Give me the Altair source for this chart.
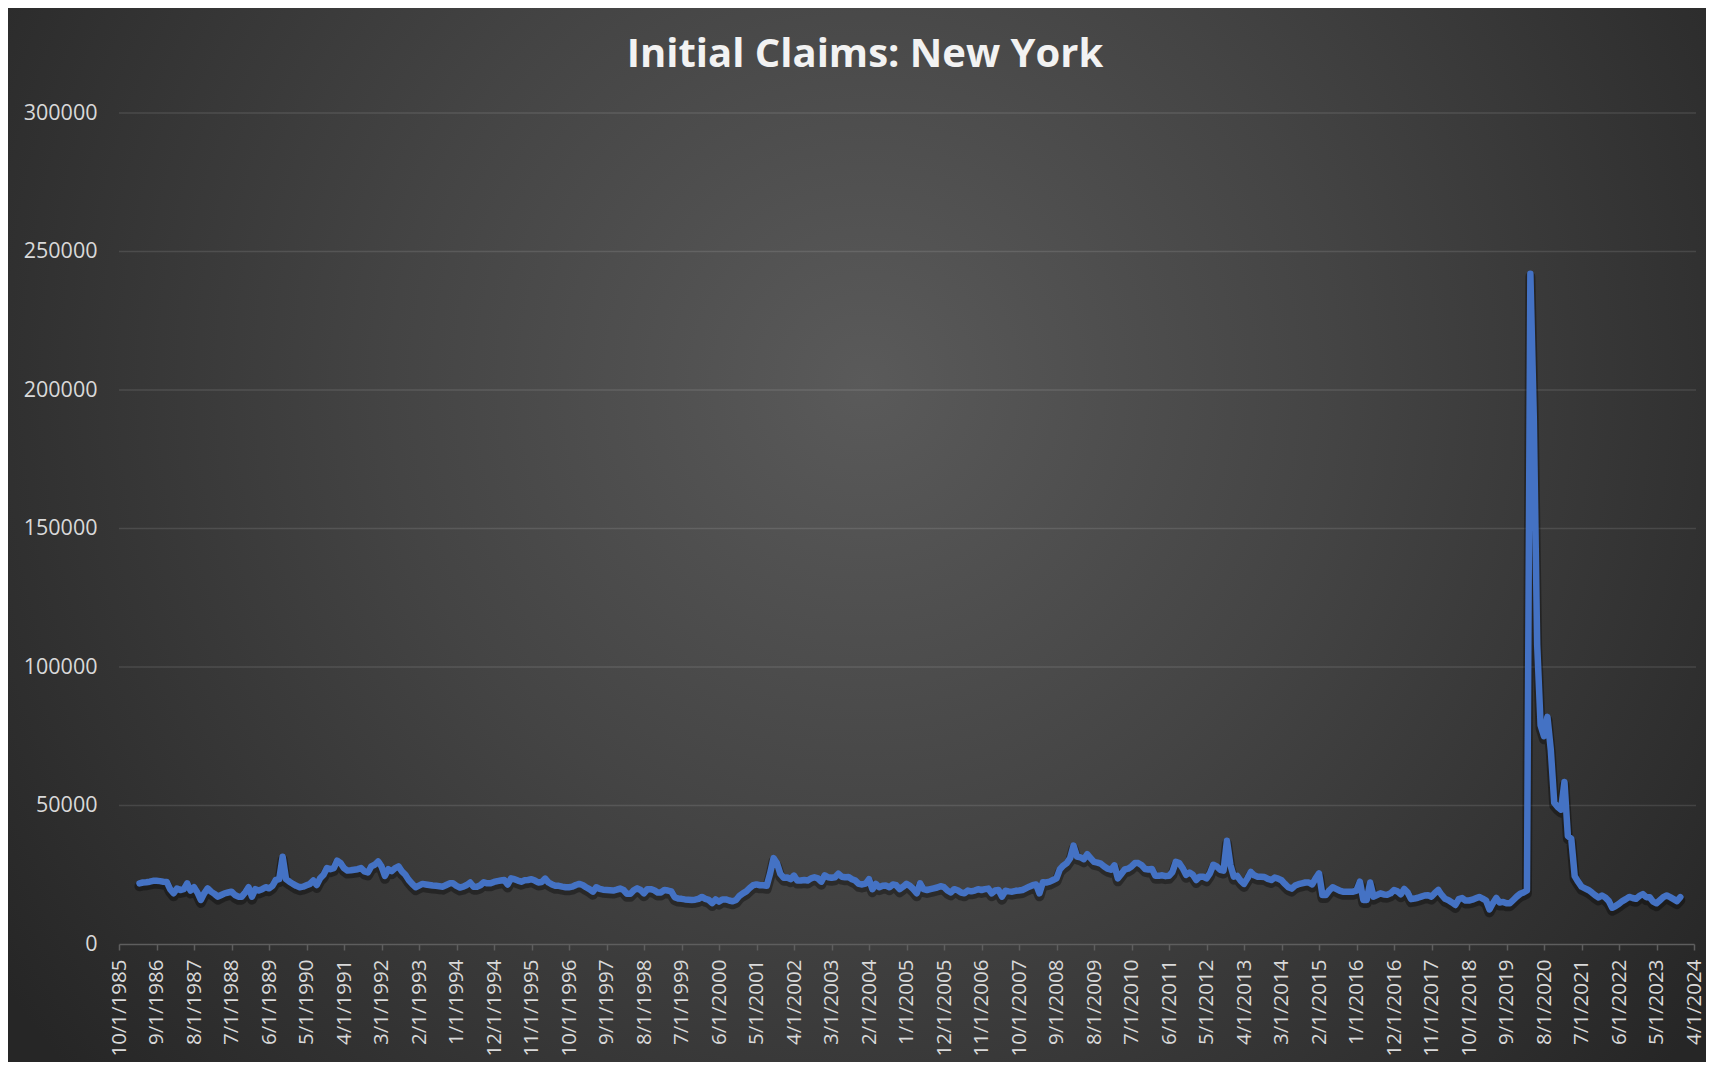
import altair as alt
import pandas as pd

# ---- data (monthly initial claims, New York), first month = April 1986 ----
start_year = 1986
start_month = 4

claims_1986_1990 = [
    21900, 22200, 22300, 22500, 22800, 22800, 22700, 22500, 22400,
    19800, 18300, 20000, 19500, 19800, 21900, 19300, 20500, 18600, 15900, 18300, 20100,
    18900, 18100, 17100, 17700, 18300, 18600, 18900, 17700, 17100, 17100, 18600, 20500,
    17100, 19800, 19300, 19800, 20500, 20100, 21000, 23100, 23400, 31500, 23400, 22500,
    21700, 21000, 20500, 20700, 21200, 21700, 22900, 21300, 23700, 25000, 27400, 27000,
]
claims_1991_1995 = [
    27400, 30100, 29200, 27400, 26500, 26600, 26800, 27000, 27400, 26200, 25800, 28000,
    28600, 29800, 28000, 24600, 27000, 26300, 27400, 28000, 26200, 25000, 23100, 21700,
    20500, 21100, 21700, 21500, 21300, 21100, 21000, 20850, 20700, 21300, 21900, 21900,
    21000, 20400, 20700, 21300, 22200, 20700, 20700, 21200, 22300, 21900, 21900, 22400,
    22700, 22900, 23100, 21500, 23700, 23400, 22900, 22500, 23000, 23100, 23400, 22900,
]
claims_1996_2000 = [
    22200, 22400, 23600, 22200, 21500, 21000, 21000, 20700, 20500, 20500, 20700, 21300,
    21700, 21300, 20500, 19800, 18900, 20500, 19900, 19600, 19500, 19400, 19300, 19600,
    20000, 19500, 18100, 18100, 19400, 20100, 19500, 18300, 19800, 19800, 19400, 18600,
    18600, 19500, 19300, 19000, 16900, 16400, 16300, 16100, 16000, 15900, 16000, 16300,
    17000, 16300, 15900, 14800, 16100, 15300, 16100, 16100, 15700, 15400, 15900, 17400,
]
claims_2001_2005 = [
    18300, 19000, 20200, 21200, 21500, 21200, 21200, 21000, 25500, 31000, 29200, 25300,
    23900, 24000, 23400, 24700, 22900, 22900, 23100, 22900, 23700, 24100, 23700, 22500,
    24800, 24100, 23900, 24100, 25400, 24300, 24100, 24200, 23400, 22900, 21700, 21500,
    21800, 23400, 19800, 21700, 20500, 21000, 21100, 20500, 21500, 21200, 19800, 20700,
    21700, 21000, 19800, 18300, 21900, 19800, 19500, 19800, 20100, 20400, 20850, 20500,
]
claims_2006_2010 = [
    19300, 18600, 19800, 19400, 18600, 18300, 19300, 19000, 19300, 19800, 19500, 19800,
    20000, 18300, 19300, 19500, 17100, 19200, 19000, 18900, 19200, 19300, 19500, 20100,
    20700, 21200, 21500, 18300, 22300, 22200, 22500, 23100, 23700, 27000, 28300, 29200,
    31000, 35500, 31600, 31300, 30600, 32400, 31000, 29650, 29400, 29000, 28000, 27200,
    26800, 28400, 23700, 25300, 26900, 27200, 28000, 29200, 29200, 28400, 27100, 26900,
]
claims_2011_2015 = [
    27100, 24600, 24600, 24800, 24500, 24600, 26000, 29650, 29200, 27400, 25000, 25800,
    25000, 23100, 24300, 24300, 23700, 25500, 28600, 28000, 26800, 26500, 37300, 28600,
    24300, 24600, 22900, 21700, 23700, 26000, 24800, 24300, 24300, 24200, 23500, 23100,
    24000, 23600, 23000, 21700, 20500, 20000, 21100, 21600, 21900, 22200, 22200, 21500,
    23700, 25500, 17700, 17700, 19300, 20500, 19900, 19300, 18900, 18900, 18900, 18900,
]
claims_2016_2019 = [
    19300, 22500, 15900, 15900, 22200, 17100, 17700, 18300, 17900, 17800, 18300, 19500,
    19000, 17960, 19900, 18600, 16200, 16400, 16700, 17100, 17500, 17600, 17100, 18400,
    19500, 17700, 16300, 15800, 15000, 14100, 16200, 16600, 15700, 15700, 16000, 16500,
    17000, 16400, 15700, 12500, 14700, 16600, 15000, 15200, 14700, 14700, 15900, 17100,
]
claims_2020_2023 = [
    18100, 18600, 19300, 242000, 190000, 108000, 79000, 75000, 82000, 70000, 51000, 49500,
    48500, 58500, 39000, 38000, 24500, 22500, 20700, 20100, 19500, 18600, 17600, 16800,
    17500, 16800, 15500, 13100, 13700, 14500, 15500, 16200, 17000, 16600, 16300, 17400,
    18000, 16900, 16900, 15300, 14700, 15800, 16900, 17500, 16900, 16200, 15500, 16900,
]

# x-axis: month index counted from October 1985, one tick every 11 months
tick_labels = [
    "10/1/1985", "9/1/1986", "8/1/1987", "7/1/1988", "6/1/1989", "5/1/1990",
    "4/1/1991", "3/1/1992", "2/1/1993", "1/1/1994", "12/1/1994", "11/1/1995",
    "10/1/1996", "9/1/1997", "8/1/1998", "7/1/1999", "6/1/2000", "5/1/2001",
    "4/1/2002", "3/1/2003", "2/1/2004", "1/1/2005", "12/1/2005", "11/1/2006",
    "10/1/2007", "9/1/2008", "8/1/2009", "7/1/2010", "6/1/2011", "5/1/2012",
    "4/1/2013", "3/1/2014", "2/1/2015", "1/1/2016", "12/1/2016", "11/1/2017",
    "10/1/2018", "9/1/2019", "8/1/2020", "7/1/2021", "6/1/2022", "5/1/2023",
    "4/1/2024",
]
tick_step = 11
y_ticks = [0, 50000, 100000, 150000, 200000, 250000, 300000]
grid_values = [50000, 100000, 150000, 200000, 250000, 300000]
title_text = "Initial Claims: New York"

values = (claims_1986_1990 + claims_1991_1995 + claims_1996_2000 + claims_2001_2005
          + claims_2006_2010 + claims_2011_2015 + claims_2016_2019 + claims_2020_2023)
m0 = (start_year - 1985) * 12 + (start_month - 10)
df = pd.DataFrame({"m": list(range(m0, m0 + len(values))), "claims": values})
grid_df = pd.DataFrame({"claims": grid_values})
one = pd.DataFrame({"a": [0]})

W, H = 1575, 831
PAD = {"left": 111, "top": 105, "right": 12, "bottom": 118}

tick_months = [i * tick_step for i in range(len(tick_labels))]
label_expr = "[" + ",".join("'" + t + "'" for t in tick_labels) + "][round(datum.value / %d)]" % tick_step

x_scale = alt.Scale(domain=[0, tick_months[-1]], nice=False, zero=False)
y_scale = alt.Scale(domain=[0, 300000], nice=False)

x_axis = alt.Axis(
    values=tick_months, labelExpr=label_expr, labelAngle=-90,
    labelFont="Open Sans", labelFontSize=20.5, labelColor="#d9d9d9",
    labelPadding=9, labelOverlap=False, labelFlush=False,
    domainColor="#5e5e5e", domainWidth=1.5, tickColor="#5e5e5e",
    tickWidth=1.5, tickSize=6, grid=False, zindex=2,
)
y_axis = alt.Axis(
    values=y_ticks, format="d", labelFont="Open Sans", labelFontSize=21.5,
    labelColor="#d9d9d9", labelPadding=22, ticks=False, domain=False,
    grid=False, zindex=2,
)

bg = alt.Chart(one).mark_rect(
    fill=alt.RadialGradient(
        gradient="radial",
        x1=0.505, y1=0.41, r1=0.0,
        x2=0.505, y2=0.41, r2=0.62,
        stops=[
            alt.GradientStop(color="#5a5a5a", offset=0),
            alt.GradientStop(color="#444444", offset=0.45),
            alt.GradientStop(color="#262626", offset=1),
        ],
    ),
    strokeWidth=0,
).encode(
    x=alt.value(-PAD["left"]), x2=alt.value(W + PAD["right"]),
    y=alt.value(-PAD["top"]), y2=alt.value(H + PAD["bottom"]),
)

grid = alt.Chart(grid_df).mark_rule(color="#ffffff", opacity=0.11, strokeWidth=1.5).encode(
    y=alt.Y("claims:Q", scale=y_scale, axis=y_axis, title=None),
    x=alt.value(0), x2=alt.value(W + 2),
)

x_enc = alt.X("m:Q", scale=x_scale, title=None, axis=x_axis)
y_enc = alt.Y("claims:Q", scale=y_scale, title=None, axis=y_axis)

shadow = alt.Chart(df).mark_line(
    color="#000000", opacity=0.35, strokeWidth=10, yOffset=3,
    strokeCap="round", strokeJoin="round",
).encode(x=x_enc, y=y_enc)

line = alt.Chart(df).mark_line(
    color="#4472C4", strokeWidth=6.5, strokeCap="round", strokeJoin="round",
).encode(x=x_enc, y=y_enc)

title = alt.Chart(one).mark_text(
    text=title_text, font="Open Sans", fontSize=40, fontWeight="bold",
    color="#f2f2f2", align="center", baseline="middle",
).encode(x=alt.value(746), y=alt.value(-58))

chart = alt.layer(bg, grid, shadow, line, title).properties(
    width=W, height=H, padding=PAD,
    autosize=alt.AutoSizeParams(type="none"),
).configure(background="#262626").configure_view(stroke=None)

chart.save("out.html", embed_options={"renderer": "svg", "actions": False})
